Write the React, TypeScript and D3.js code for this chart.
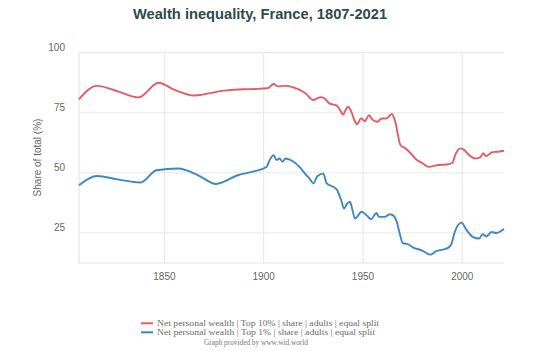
import React from "react";
import * as d3 from "d3";

const title = "Wealth inequality, France, 1807-2021";
const yTicks = [25, 50, 75, 100];
const xTicks = [1850, 1900, 1950, 2000];

// Top 10% share (%)
const top10Years = [
  1807, 1816, 1827, 1837, 1847, 1855, 1865, 1880, 1890, 1896, 1902, 1905, 1907,
  1911, 1917, 1921, 1925, 1927, 1929, 1931, 1933, 1937, 1938, 1940, 1941, 1942.5,
  1944, 1946, 1947, 1949, 1951, 1953, 1955, 1957.5, 1959, 1962, 1964.5, 1966,
  1969, 1971, 1973, 1977, 1980, 1983, 1988, 1992, 1995, 1996.5, 1999, 2000.5,
  2004, 2006.5, 2009, 2010.5, 2012, 2015, 2018, 2021,
];
const top10Values = [
  80.6, 86.2, 83.8, 81.4, 87.5, 84.6, 82.2, 84.2, 84.8, 84.9, 85.2, 87, 86,
  86.2, 84.9, 83.1, 80.3, 81, 81.5, 80.7, 78.9, 77.9, 76.8, 74.3, 75.7, 77.5,
  75.7, 71.3, 70.2, 72.7, 71.5, 74, 72, 71.3, 72.5, 72.7, 74.5, 72, 61.3, 60.4,
  59, 55.5, 54, 52.5, 53.3, 53.5, 54.1, 57.6, 60.2, 59.8, 57, 56, 56.4, 58.2,
  57, 58.6, 58.8, 59.2,
];

// Top 1% share (%)
const top1Years = [
  1807, 1816, 1827, 1838, 1846, 1857, 1867, 1876, 1887, 1896, 1901.5, 1903,
  1905, 1906.5, 1908, 1909.5, 1911, 1915, 1918, 1921.5, 1923, 1925, 1927, 1930,
  1931.7, 1935, 1937, 1939, 1940.5, 1942, 1943.5, 1944.5, 1946, 1949.3, 1951.8,
  1954, 1956.8, 1958, 1961, 1963.5, 1965, 1967, 1968.5, 1970, 1972.7, 1975.3,
  1979.5, 1984, 1987, 1990.3, 1993, 1994.6, 1996.2, 1999.6, 2002, 2005.4,
  2008.5, 2010.2, 2012.2, 2014.7, 2017.2, 2021,
];
const top1Values = [
  44.9, 48.7, 47.2, 46, 51.1, 51.8, 49, 45.4, 49, 50.8, 52.5, 55.3, 57.4, 55.3,
  56, 54.6, 56, 54.6, 52.5, 49, 47.7, 45.6, 48.6, 49.7, 45.6, 44.2, 42.8, 38.6,
  35.2, 37.2, 37.9, 35.2, 31, 33.8, 32.4, 30.7, 33.3, 31.7, 31.7, 32.8, 32.4,
  29.6, 24.8, 20.8, 20.3, 18.9, 17.8, 16, 17.5, 18.1, 18.9, 20.6, 25.4, 29.3,
  26.4, 23.3, 22.7, 24.5, 23.6, 25.4, 25, 26.6,
];

const legendLabels = [
  "Net personal wealth | Top 10% | share | adults | equal split",
  "Net personal wealth | Top 1% | share | adults | equal split",
];
const colors = ["#e45b66", "#3d87c3"];

export default function App() {
  const width = 540;
  const height = 351;
  const left = 79;
  const right = 504;
  const top = 52.7;
  const bottom = 263;

  const x = d3.scaleLinear().domain([1807, 2021]).range([left, right]);
  const y = d3.scaleLinear().domain([12.5, 100]).range([bottom, top]);

  const line = d3
    .line<[number, number]>()
    .x((d) => x(d[0]))
    .y((d) => y(d[1]))
    .curve(d3.curveMonotoneX);

  const series = [
    d3.zip(top10Years, top10Values) as [number, number][],
    d3.zip(top1Years, top1Values) as [number, number][],
  ];

  const sans = "'Liberation Sans', Arial, sans-serif";
  const serif = "'Liberation Serif', 'Times New Roman', serif";
  const legendWidths = [222, 218];

  return (
    <svg
      width={width}
      height={height}
      style={{ position: "absolute", left: 0, top: 0, background: "#fff" }}
    >
      <text
        x={260}
        y={19}
        textAnchor="middle"
        fontFamily={sans}
        fontWeight="bold"
        fontSize={14.7}
        fill="#2e4a4a"
      >
        {title}
      </text>

      {/* grid */}
      {yTicks.map((t) => (
        <line key={"gy" + t} x1={left} x2={right} y1={y(t)} y2={y(t)} stroke="#e6e6e6" />
      ))}
      {xTicks.map((t) => (
        <line key={"gx" + t} x1={x(t)} x2={x(t)} y1={top} y2={bottom} stroke="#e6e6e6" />
      ))}
      <line x1={left} x2={left} y1={top} y2={bottom} stroke="#e0e0e0" />
      <line x1={left - 1} x2={right} y1={bottom} y2={bottom} stroke="#dde3ee" />

      {/* axis labels */}
      {yTicks.map((t) => (
        <text
          key={"ty" + t}
          x={65}
          y={y(t) - 1.5}
          textAnchor="end"
          fontFamily={sans}
          fontSize={10}
          fill="#666"
        >
          {t}
        </text>
      ))}
      {xTicks.map((t) => (
        <text
          key={"tx" + t}
          x={x(t)}
          y={279.5}
          textAnchor="middle"
          fontFamily={sans}
          fontSize={10}
          fill="#666"
        >
          {t}
        </text>
      ))}
      <text
        transform="translate(41,157.5) rotate(-90)"
        textAnchor="middle"
        fontFamily={sans}
        fontSize={10}
        fill="#666"
      >
        Share of total (%)
      </text>

      {/* lines */}
      {series.map((s, i) => (
        <path
          key={"s" + i}
          d={line(s) ?? ""}
          fill="none"
          stroke={colors[i]}
          strokeWidth={1.9}
          strokeLinejoin="round"
        />
      ))}

      {/* legend */}
      {legendLabels.map((l, i) => (
        <g key={"lg" + i} transform={`translate(0,${323.3 + i * 9})`}>
          <line x1={141} x2={153} y1={0} y2={0} stroke={colors[i]} strokeWidth={2} />
          <text
            x={157}
            y={3}
            fontFamily={serif}
            fontSize={9.2}
            fill="#6a6a6a"
            textLength={legendWidths[i]}
            lengthAdjust="spacingAndGlyphs"
          >
            {l}
          </text>
        </g>
      ))}
      <text
        x={256}
        y={345}
        textAnchor="middle"
        fontFamily={serif}
        fontSize={7.3}
        fill="#777"
      >
        Graph provided by www.wid.world
      </text>
    </svg>
  );
}
